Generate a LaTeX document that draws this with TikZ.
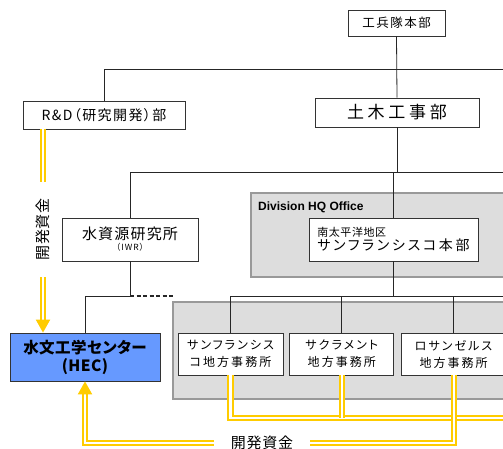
\documentclass[tikz,border=0pt]{standalone}
\usepackage{fontspec}
\setmainfont{Noto Sans CJK JP}[RawFeature=+palt]
\newfontfamily\latinbold{Liberation Sans}[Scale=1.0]
\usepackage{tikz}
\usetikzlibrary{positioning,arrows.meta}

\definecolor{fundyellow}{HTML}{FFCC00}
\definecolor{groupgray}{HTML}{DDDDDD}
\definecolor{hecblue}{HTML}{6699FF}

\newcommand{\fsz}[2]{\fontsize{#1}{#2}\selectfont}
\newcommand{\track}[1]{\addfontfeature{LetterSpace=#1}}

\begin{document}
\begin{tikzpicture}[x=1pt,y=-1pt,>=stealth,
		unit/.style={shape=rectangle,draw=black!80,line width=0.8pt,fill=white,inner sep=2pt,align=center},
		group/.style={draw=black!40,line width=1.6pt,fill=groupgray},
		link/.style={draw=black!85,line width=0.8pt},
		fund/.style={draw=fundyellow,line width=2pt,double=white,double distance=2.2pt},
		fundarrow/.style={fund,-{Triangle[width=14pt,length=13pt,fill=fundyellow]}},
		fundlabel/.style={inner sep=0pt,font=\fsz{15}{17}\track{5}},]
		\useasboundingbox (0,0) rectangle (503,449);
		
		% group backgrounds
		\draw[group] (251,193) rectangle (520,277);
		\draw[group] (173,302) rectangle (520,399);
		
		% create the nodes
		\node (hq) [unit,minimum width=97pt,minimum height=26pt,font=\fsz{12.5}{14}\track{12}] at (396.5,23) {工兵隊本部};
		\node (rd) [unit,minimum width=162pt,minimum height=28pt,font=\fsz{14}{16}\track{10}] at (104,115) {R\&D（研究開発）部};
		\node (civil) [unit,minimum width=164pt,minimum height=29pt,font=\fsz{17}{19}\track{22}] at (397,112.5) {土木工事部};
		\node (iwr) [unit,minimum width=136pt,minimum height=43pt] at (130,239.5) {{\fsz{15}{18}\track{8}水資源研究所}\\[-1pt]{\fsz{8.5}{10}\track{12}（IWR）}};
		\node (divlabel) [anchor=west,inner sep=0pt,font=\latinbold\bfseries\fsz{12}{14}] at (258,207) {Division HQ Office};
		\node (sfhq) [unit,minimum width=169pt,minimum height=43pt,align=left] at (393.5,239.5) {{\fsz{11}{14}\track{5}南太平洋地区}\\{\fsz{14}{17}\track{19}サンフランシスコ本部}};
		\node (hec) [unit,fill=hecblue,minimum width=150pt,minimum height=48pt,font=\bfseries\fsz{15.5}{18}\track{3}] at (85,357) {水文工学センター\\(HEC)};
		\node (sfo) [unit,minimum width=105pt,minimum height=42pt,font=\fsz{12}{17}\track{17}] at (230.5,354) {サンフランシス\\コ地方事務所};
		\node (sac) [unit,minimum width=104pt,minimum height=42pt,font=\fsz{12}{17}\track{17},right =6pt of sfo] {サクラメント\\地方事務所};
		\node (lao) [unit,minimum width=104pt,minimum height=42pt,font=\fsz{12}{17}\track{17},right =7pt of sac] {ロサンゼルス\\地方事務所};
		
		\node (fundA) [fundlabel,rotate=90,minimum width=95pt] at (43,229.5) {開発資金};
		\node (fundB) [fundlabel,minimum width=96pt] at (262,443) {開発資金};
		
		\coordinate (topR) at (510,69);
		\coordinate (midR) at (510,172);
		\coordinate (lowR) at (510,296);
		\coordinate (dashEnd) at (173,296);
		\coordinate (fundR) at (510,418);
		
		% connect the nodes
		\draw[link] (hq.south) -- (civil.north);
		\draw[link] (rd.north) |- (topR);
		\draw[link] (civil.south) -- (civil.south |- midR);
		\draw[link] (iwr.north) |- (midR);
		\draw[link] (sfhq.north) -- (sfhq.north |- midR);
		\draw[link] (sfhq.south) -- (sfhq.south |- lowR);
		\draw[link] (sfo.north) |- (lowR);
		\draw[link] (sac.north) -- (sac.north |- lowR);
		\draw[link] (lao.north) -- (lao.north |- lowR);
		\draw[link] (iwr.south) -- (iwr.south |- lowR) -| (hec.north);
		\draw[link,line width=1.5pt,dash pattern=on 4pt off 2.5pt] (iwr.south |- lowR) -- (dashEnd);
		
		% funding
		\draw[fund] (rd.south -| fundA.east) -- (fundA.east);
		\draw[fundarrow] (fundA.west) -- (fundA.west |- hec.north);
		\draw[fund] (sfo.south) |- (fundR);
		\draw[fund] (sac.south) -- (sac.south |- fundR);
		\draw[fund] (lao.south) |- (fundB.east);
		\draw[fundarrow] (fundB.west) -| (hec.south);
		
	\end{tikzpicture}
\end{document}
